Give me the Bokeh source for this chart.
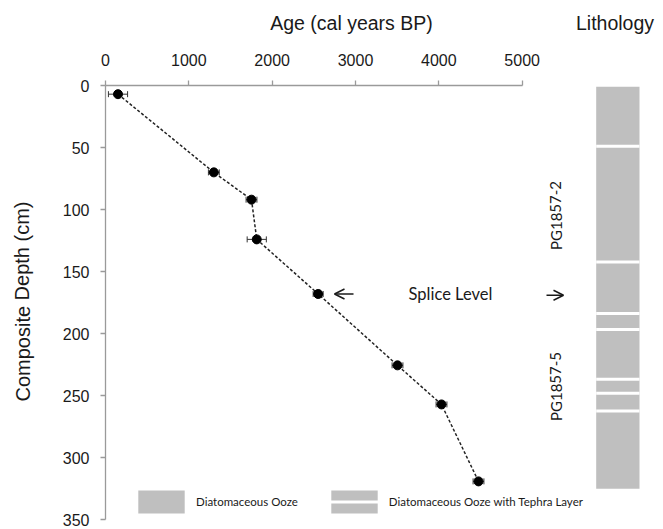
from bokeh.plotting import figure
from bokeh.models import (Range1d, FixedTicker, Whisker, TeeHead, ColumnDataSource, LinearAxis,
                          Label, Arrow, OpenHead, Legend, LegendItem)
from bokeh.embed import file_html
from bokeh.resources import INLINE

# ---- data ----
age = [150, 1300, 1752, 1815, 2552, 3504, 4032, 4476]
age_err = [115, 65, 65, 115, 60, 65, 65, 65]
depth = [7, 70, 92, 124, 168, 225.5, 257, 319]

x_ticks = [0, 1000, 2000, 3000, 4000, 5000]
y_ticks = [0, 50, 100, 150, 200, 250, 300, 350]

core_top = 1
core_bottom = 325
tephra_depths = [49, 142.3, 183.8, 196.6, 236.8, 248, 262.2]
splice_depth = 168

AX = "#9a9a9a"
TXT = "#1a1a1a"

# page geometry: the whole canvas is the frame; axes sit at fixed locations
W, H = 663, 529
X0_PX, Y0_PX = 105, 85          # screen position of age 0 / depth 0
AGE_PER_PX = 12.0
PX_PER_CM = 1.241


def ax_(px):
    return (px - X0_PX) * AGE_PER_PX


def dy_(py):
    return (py - Y0_PX) / PX_PER_CM


p = figure(width=W, height=H, output_backend="svg", toolbar_location=None,
           x_range=Range1d(ax_(0), ax_(W)), y_range=Range1d(dy_(H), dy_(0)),
           x_axis_location=None, y_axis_location=None,
           min_border_left=0, min_border_top=0, min_border_bottom=0, min_border_right=0)
# lithology column scale: column spans 0..1
LITH_L, LITH_R = 595.7, 639.0
lw = LITH_R - LITH_L
p.extra_x_ranges = {"lith": Range1d(-LITH_L / lw, (W - LITH_L) / lw)}
p.outline_line_color = None
p.grid.visible = False
p.background_fill_color = "white"
p.border_fill_color = "white"

xax = LinearAxis(fixed_location=0, bounds=(0, 5000), ticker=FixedTicker(ticks=x_ticks))
yax = LinearAxis(fixed_location=0, bounds=(0, 350), ticker=FixedTicker(ticks=y_ticks))
for ax in (xax, yax):
    ax.axis_line_color = AX
    ax.axis_line_width = 1.3
    ax.major_tick_line_color = AX
    ax.major_tick_line_width = 1.3
    ax.major_tick_in = 0
    ax.major_tick_out = 5
    ax.minor_tick_line_color = None
    ax.major_label_text_font = "Liberation Sans"
    ax.major_label_text_font_size = "16px"
    ax.major_label_text_color = TXT
xax.major_label_standoff = 15
yax.major_label_standoff = 11
p.add_layout(xax, "above")
p.add_layout(yax, "left")

# ---- lithology column ----
litho = p.quad(left=0, right=1, top=core_top, bottom=core_bottom, x_range_name="lith",
               fill_color="#bfbfbf", line_color=None)
tephra = p.segment(x0=[0] * len(tephra_depths), x1=[1] * len(tephra_depths),
                   y0=tephra_depths, y1=tephra_depths, x_range_name="lith",
                   line_color="white", line_width=3)

# ---- age-depth model ----
src = ColumnDataSource(dict(age=age, depth=depth,
                            lo=[a - e for a, e in zip(age, age_err)],
                            hi=[a + e for a, e in zip(age, age_err)]))
p.line("age", "depth", source=src, line_color="#222222", line_width=1.5, line_dash="3 2")
p.add_layout(Whisker(base="depth", lower="lo", upper="hi", dimension="width", source=src,
                     line_color="#333333", line_width=1,
                     lower_head=TeeHead(size=6, line_color="#333333", line_width=1),
                     upper_head=TeeHead(size=6, line_color="#333333", line_width=1)))
p.scatter("age", "depth", source=src, size=9, color="black")

# ---- texts ----
TITLE_Y = dy_(22)
p.add_layout(Label(x=ax_(351), y=TITLE_Y, text="Age (cal years BP)", text_align="center",
                   text_baseline="middle", text_font="Liberation Sans",
                   text_font_size="19.5px", text_color=TXT))
p.add_layout(Label(x=(614.5 - LITH_L) / lw, y=TITLE_Y, x_range_name="lith", text="Lithology",
                   text_align="center", text_baseline="middle", text_font="Liberation Sans",
                   text_font_size="19.5px", text_color=TXT))
p.add_layout(Label(x=ax_(22), y=dy_(301), text="Composite Depth (cm)", angle=1.5708,
                   text_align="center", text_baseline="middle", text_font="Liberation Sans",
                   text_font_size="20px", text_color=TXT))
p.add_layout(Label(x=ax_(450), y=splice_depth, text="Splice Level", text_align="center",
                   text_baseline="middle", text_font="Lato", text_font_size="16.5px",
                   text_color=TXT))
p.add_layout(Arrow(x_start=ax_(353), x_end=ax_(334), y_start=splice_depth, y_end=splice_depth,
                   line_color=TXT, line_width=1.5,
                   end=OpenHead(size=10, line_color=TXT, line_width=1.5)))
p.add_layout(Arrow(x_start=ax_(546), x_end=ax_(563), y_start=splice_depth + 1,
                   y_end=splice_depth + 1, line_color=TXT, line_width=1.5,
                   end=OpenHead(size=10, line_color=TXT, line_width=1.5)))
for txt, d in (("PG1857-2", dy_(215)), ("PG1857-5", dy_(386))):
    p.add_layout(Label(x=ax_(555), y=d, text=txt, angle=1.5708, text_align="center",
                       text_baseline="middle", text_font="Lato", text_font_size="15px",
                       text_color=TXT))

legend = Legend(items=[LegendItem(label="Diatomaceous Ooze", renderers=[litho]),
                       LegendItem(label="Diatomaceous Ooze with Tephra Layer",
                                  renderers=[litho, tephra])],
                orientation="horizontal", location=(132, 13),
                glyph_width=58, glyph_height=29, label_standoff=6, spacing=27,
                padding=0, margin=0, border_line_color=None, background_fill_alpha=0,
                label_text_font="Lato", label_text_font_size="11.5px",
                label_text_color=TXT)
p.add_layout(legend)

open("out.html", "w").write(file_html(p, INLINE))
